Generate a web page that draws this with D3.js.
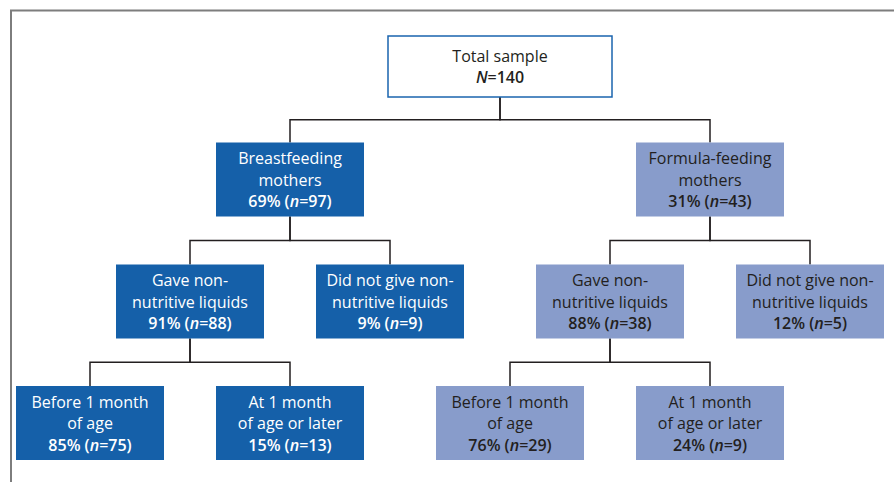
<!DOCTYPE html>
<html><head><meta charset="utf-8">
<script src="https://cdn.jsdelivr.net/npm/d3@7/dist/d3.min.js"></script>
<style>body{margin:0;background:#fff}svg{display:block}</style>
</head><body>
<script>
// ---- data ----
const nodeIds  = ["root","bf","ff","bfGave","bfNot","ffGave","ffNot","bfBefore","bfAt","ffBefore","ffAt"];
const parentIds = [null,"root","root","bf","bf","ff","ff","bfGave","bfGave","ffGave","ffGave"];
const labels = [
  ["Total sample"],
  ["Breastfeeding","mothers"],
  ["Formula-feeding","mothers"],
  ["Gave non-","nutritive liquids"],
  ["Did not give non-","nutritive liquids"],
  ["Gave non-","nutritive liquids"],
  ["Did not give non-","nutritive liquids"],
  ["Before 1 month","of age"],
  ["At 1 month","of age or later"],
  ["Before 1 month","of age"],
  ["At 1 month","of age or later"]
];
const percents = [null,69,31,91,9,88,12,85,15,76,24];
const counts   = [140,97,43,88,9,38,5,75,13,29,9];
const groups   = ["total","breast","formula","breast","breast","formula","formula","breast","breast","formula","formula"];

// ---- styles ----
const W = 894, H = 482;
const fillColor = d3.scaleOrdinal().domain(["total","breast","formula"]).range(["#ffffff","#1560a9","#889ccb"]);
const textColor = d3.scaleOrdinal().domain(["total","breast","formula"]).range(["#231f20","#ffffff","#231f20"]);
const FONT = "'Open Sans', sans-serif";
const FS = 16;
const LH = 21.5;

const table = nodeIds.map((id,i)=>({id, parent: parentIds[i], lines: labels[i], pct: percents[i], n: counts[i], group: groups[i]}));
const root = d3.stratify().id(d=>d.id).parentId(d=>d.parent)(table);
d3.tree().nodeSize([200, 1]).separation((a,b)=> a.parent===b.parent ? 1 : 1.1)(root);

const x = d3.scaleLinear().domain([0,1]).range([500,501]);
const y = d3.scaleLinear().domain([0,1,2,3]).range([66.5,179.5,301.5,423]);
const boxW = d => d.depth===0 ? 224 : 148;
const boxH = d => d.depth===0 ? 61 : 74;

const svg = d3.select("body").append("svg").attr("width",W).attr("height",H);

// frame
svg.append("path").attr("d",`M11,${H} V10.5 H${W}`).attr("fill","none").attr("stroke","#7d7d7d").attr("stroke-width",2);

// links
svg.append("g").selectAll("path").data(root.links()).join("path")
  .attr("fill","none").attr("stroke","#231f20").attr("stroke-width",1.5)
  .attr("d", l => {
    const px = x(l.source.x), pb = y(l.source.depth) + boxH(l.source)/2;
    const cx = x(l.target.x), ct = y(l.target.depth) - boxH(l.target)/2;
    const my = (pb+ct)/2;
    return `M${px},${pb} V${my} H${cx} V${ct}`;
  });

// nodes
const g = svg.append("g").selectAll("g").data(root.descendants()).join("g")
  .attr("transform", d=>`translate(${x(d.x)},${y(d.depth)})`);
g.append("rect")
  .attr("x", d=>-boxW(d)/2).attr("y", d=>-boxH(d)/2)
  .attr("width", boxW).attr("height", boxH)
  .attr("fill", d=>fillColor(d.data.group))
  .attr("stroke", d=> d.data.group==="total" ? "#1a64ae" : "none")
  .attr("stroke-width", 1.5);

g.each(function(d){
  const sel = d3.select(this);
  const nLines = d.data.lines.length + 1;
  const base = i => 6 + (i - (nLines-1)/2) * LH;
  const t = sel.append("text").attr("text-anchor","middle")
    .attr("font-family",FONT).attr("font-size",FS).attr("fill",textColor(d.data.group));
  d.data.lines.forEach((ln,i)=>{
    t.append("tspan").attr("x",0).attr("y",base(i)).text(ln);
  });
  const s = sel.append("text").attr("text-anchor","middle")
    .attr("font-family",FONT).attr("font-size",FS).attr("font-weight",600)
    .attr("fill",textColor(d.data.group)).attr("y", base(nLines-1));
  if (d.data.pct === null) {
    s.append("tspan").attr("font-style","italic").text("N");
    s.append("tspan").text("=" + d.data.n);
  } else {
    s.append("tspan").text(d.data.pct + "% (");
    s.append("tspan").attr("font-style","italic").text("n");
    s.append("tspan").text("=" + d.data.n + ")");
  }
});
</script>
</body></html>
